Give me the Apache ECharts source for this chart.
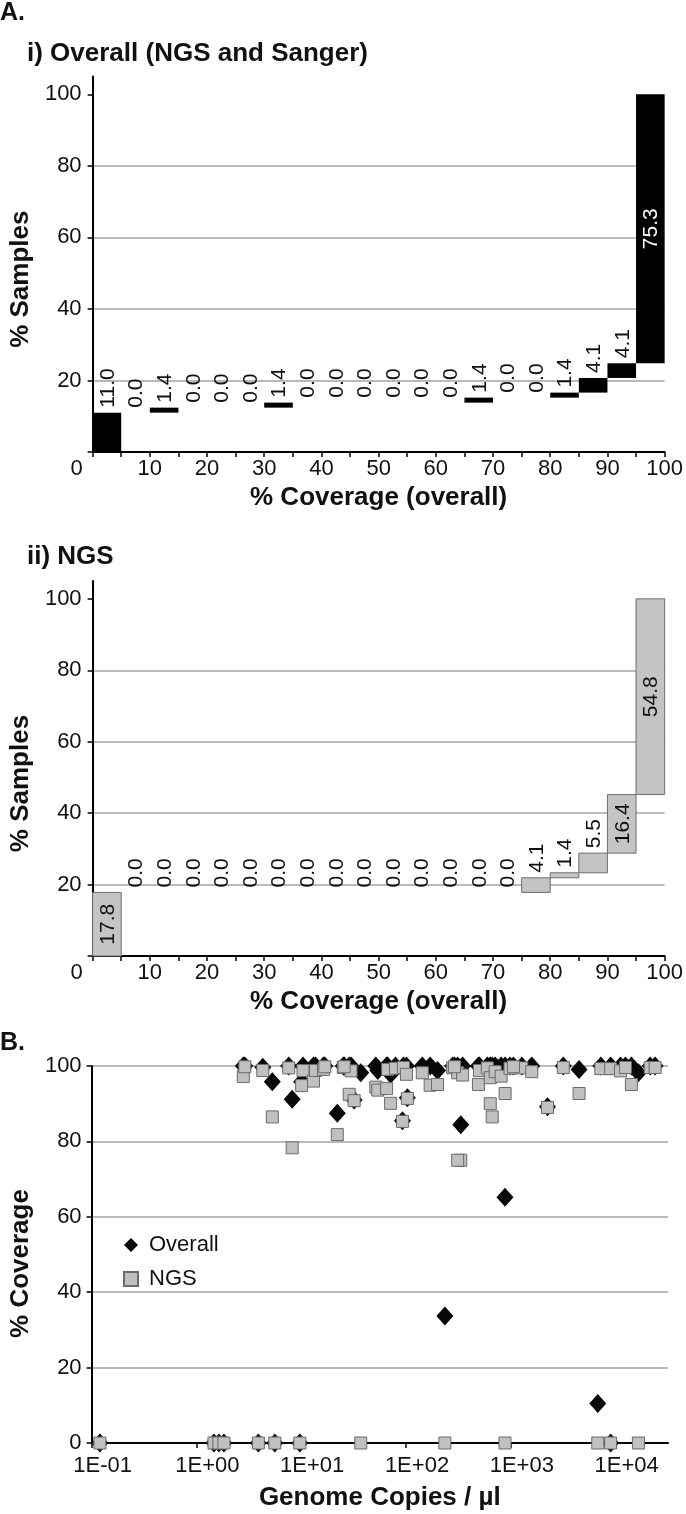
<!DOCTYPE html>
<html><head><meta charset="utf-8">
<script src="https://cdn.jsdelivr.net/npm/echarts@6/dist/echarts.min.js"></script>
<style>html,body{margin:0;padding:0;background:#fff}#c{width:686px;height:1514px}</style>
</head><body><div id="c"></div>
<script>
const FONT = '"Liberation Sans", Arial, Helvetica, sans-serif';

// ---- Panel A: histogram bins (% coverage) ----
const binEdges = [0,5,10,15,20,25,30,35,40,45,50,55,60,65,70,75,80,85,90,95,100];
const overallPct = [11.0,0.0,1.4,0.0,0.0,0.0,1.4,0.0,0.0,0.0,0.0,0.0,0.0,1.4,0.0,0.0,1.4,4.1,4.1,75.3];
const ngsPct     = [17.8,0.0,0.0,0.0,0.0,0.0,0.0,0.0,0.0,0.0,0.0,0.0,0.0,0.0,0.0,4.1,1.4,5.5,16.4,54.8];
const yTickValues = [0,20,40,60,80,100];
const yLabelValuesA = [20,40,60,80,100];

// ---- Panel B: samples ----
const logTicks = [0.1,1,10,100,1000,10000];
const copies = [
  0.12,1.47,1.64,1.83,3.9,5.6,9.7,37,235,880,6760,8970,16500,
  2.8,4.3,5.3,7.6,8.2,10.4,10.1,13.1,13.7,16.3,
  22.1,25.2,28.7,29.9,32,51.5,53.8,65.3,66.8,71.3,
  79.4,94.5,101,103,92.5,143,170,200,
  279,311,347,333,311,491,502,597,637,710,
  809,637,665,882,982,1274,1584,2240,3170,4480,
  7230,8970,11140,12420,14150,21380,23830,
  2.9,16.8,25.7,290,1060
];
const overallCov = [
  0,0,0,0,0,0,0,98.2,33.7,65.2,10.5,0,98.2,
  100,99.7,95.8,100,91.2,100,95.8,100,100,100,
  87.5,100,100,100,91.0,100,98.8,100,100,97.8,
  100,100,100,91.6,85.5,100,100,98.8,
  100,100,100,84.4,99.8,100,100,100,100,100,
  100,100,100,100,100,100,100,89.2,100,99.1,
  100,100,100,100,100,100,100,
  100,100,100,100,100
];
const ngsCov = [
  0,0,0,0,0,0,0,0,0,0,0,0,0,
  97.2,98.8,86.5,99.5,78.3,98.8,94.8,96.0,98.8,99.1,
  81.8,99.6,92.5,98.7,90.8,94.4,93.6,94.0,99.1,90.1,
  99.4,99.6,97.8,91.4,85.3,98.2,94.9,95.1,
  99.5,98.2,97.6,75.0,75.0,95.1,98.8,99.5,96.9,98.5,
  97.3,90.0,86.5,92.7,99.4,99.5,98.5,89.0,99.6,92.7,
  99.3,99.3,98.7,99.6,95.1,99.6,99.6,
  99.8,99.8,99.8,99.8,99.8
];

function waterfall(pct) {
  let base = 0;
  return pct.map((v, i) => {
    const item = [binEdges[i], binEdges[i + 1], base, v];
    base += v;
    return item;
  });
}

function makeRender(fill, stroke, insideColor) {
  return function (params, api) {
    const x0 = api.value(0), x1 = api.value(1), b = api.value(2), v = api.value(3);
    const p0 = api.coord([x0, b]);
    const p1 = api.coord([x1, Math.min(b + v, 100)]);
    const h = p0[1] - p1[1];
    const children = [];
    if (v > 0) {
      children.push({
        type: 'rect',
        shape: { x: p0[0], y: p1[1], width: p1[0] - p0[0], height: h },
        style: { fill: fill, stroke: stroke, lineWidth: stroke ? 1 : 0 }
      });
    }
    const inside = h > 52;
    const cx = (p0[0] + p1[0]) / 2 + 1;
    children.push({
      type: 'text',
      x: cx,
      y: inside ? (p0[1] + p1[1]) / 2 : p1[1] - 5,
      rotation: Math.PI / 2,
      style: {
        text: v.toFixed(1),
        fill: inside ? insideColor : '#111',
        font: '21px ' + FONT,
        align: inside ? 'center' : 'left',
        verticalAlign: 'middle'
      },
      z2: 10
    });
    return { type: 'group', children: children };
  };
}

const axisLine = { lineStyle: { color: '#000', width: 2 } };
const gridLine = { show: true, showMaxLine: false, lineStyle: { color: '#a3a3a3', width: 1.5 } };
const tickStyle = { show: true, length: 5, lineStyle: { color: '#000', width: 1.5 } };
const labelBase = { fontSize: 22, color: '#111', fontFamily: FONT };
const nameStyle = { fontSize: 26, fontWeight: 'bold', fontFamily: FONT, color: '#111' };

function histX(idx) {
  return {
    gridIndex: idx, type: 'value', min: 0, max: 100, interval: 5,
    axisLine: axisLine, axisTick: tickStyle, splitLine: { show: false },
    axisLabel: Object.assign({}, labelBase, {
      margin: 6,
      formatter: v => (v % 10 === 0 ? (v === 0 ? '{z|0}' : String(v)) : ''),
      rich: { z: { fontSize: 22, color: '#111', fontFamily: FONT, padding: [0, 32, 0, 0] } }
    }),
    name: '% Coverage (overall)', nameLocation: 'middle', nameGap: 33, nameTextStyle: nameStyle
  };
}
function histY(idx) {
  return {
    gridIndex: idx, type: 'value', min: 0, max: 105, interval: 20,
    axisLine: Object.assign({ show: true }, axisLine),
    axisTick: Object.assign({ customValues: yTickValues }, tickStyle),
    axisLabel: Object.assign({ customValues: yLabelValuesA, margin: 11 }, labelBase),
    splitLine: gridLine,
    name: '% Samples', nameLocation: 'middle', nameGap: 52,
    nameTextStyle: Object.assign({ padding: [0, 0, 0, -30] }, nameStyle)
  };
}

function expLabel(v) {
  const e = Math.round(Math.log10(v));
  const a = Math.abs(e);
  return '1E' + (e < 0 ? '-' : '+') + (a < 10 ? '0' + a : String(a));
}

const option = {
  animation: false,
  backgroundColor: '#fff',
  title: [
    { text: 'A.', left: 0, top: 1, padding: 0, textStyle: { fontSize: 25, fontWeight: 'bold', fontFamily: FONT, color: '#111' } },
    { text: 'i) Overall (NGS and Sanger)', left: 27, top: 41, padding: 0, textStyle: nameStyle },
    { text: 'ii) NGS', left: 27, top: 544, padding: 0, textStyle: nameStyle },
    { text: 'B.', left: 0, top: 1031, padding: 0, textStyle: { fontSize: 25, fontWeight: 'bold', fontFamily: FONT, color: '#111' } }
  ],
  legend: {
    data: ['Overall', 'NGS'], orient: 'vertical', left: 118, top: 1229,
    itemWidth: 14, itemHeight: 14, itemGap: 12, selectedMode: false,
    textStyle: { fontSize: 22, fontFamily: FONT, color: '#111', padding: [0, 0, 0, 6] }
  },
  grid: [
    { left: 84, width: 584, top: 76.4, height: 375.6 },
    { left: 84, width: 584, top: 581, height: 375 },
    { left: 84, width: 584, top: 1066, height: 377 }
  ],
  xAxis: [
    histX(0), histX(1),
    {
      gridIndex: 2, type: 'log', logBase: 10, min: 0.1, max: 31622.8,
      axisLine: axisLine,
      axisTick: Object.assign({ customValues: logTicks }, tickStyle),
      axisLabel: Object.assign({ customValues: logTicks, margin: 12, formatter: expLabel, padding: [0, 0, 0, 22] }, labelBase),
      splitLine: { show: false },
      name: 'Genome Copies / µl', nameLocation: 'middle', nameGap: 42, nameTextStyle: nameStyle
    }
  ],
  yAxis: [
    histY(0), histY(1),
    {
      gridIndex: 2, type: 'value', min: 0, max: 100, interval: 20,
      axisLine: Object.assign({ show: true }, axisLine), axisTick: tickStyle,
      axisLabel: Object.assign({ margin: 10 }, labelBase),
      splitLine: { show: true, lineStyle: { color: '#a3a3a3', width: 1.5 } },
      name: '% Coverage', nameLocation: 'middle', nameGap: 52,
      nameTextStyle: Object.assign({ padding: [0, 0, 0, -18] }, nameStyle)
    }
  ],
  series: [
    {
      type: 'custom', xAxisIndex: 0, yAxisIndex: 0,
      renderItem: makeRender('#000', null, '#fff'),
      encode: { x: [0, 1], y: [2, 3] },
      data: waterfall(overallPct), clip: false
    },
    {
      type: 'custom', xAxisIndex: 1, yAxisIndex: 1,
      renderItem: makeRender('#c4c4c4', '#6e6e6e', '#111'),
      encode: { x: [0, 1], y: [2, 3] },
      data: waterfall(ngsPct), clip: false
    },
    {
      type: 'scatter', name: 'Overall', xAxisIndex: 2, yAxisIndex: 2,
      symbol: 'diamond', symbolSize: [17, 19], clip: false, z: 3,
      itemStyle: { color: '#080808', opacity: 1 },
      data: copies.map((c, i) => [c, overallCov[i]])
    },
    {
      type: 'scatter', name: 'NGS', xAxisIndex: 2, yAxisIndex: 2,
      symbol: 'rect', symbolSize: 12, clip: false, z: 4,
      itemStyle: { color: '#c0c0c0', borderColor: '#6a6a6a', borderWidth: 1, opacity: 1 },
      data: copies.map((c, i) => [c, ngsCov[i]])
    }
  ]
};

const chart = echarts.init(document.getElementById('c'), null, { renderer: 'canvas' });
chart.setOption(option);
</script>
</body></html>
